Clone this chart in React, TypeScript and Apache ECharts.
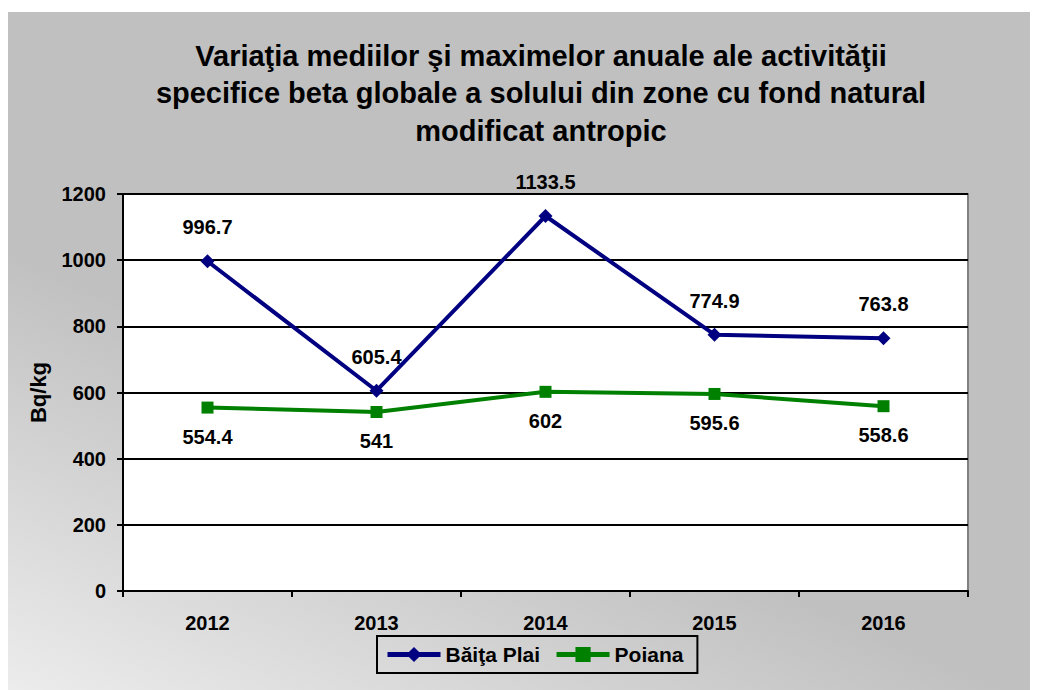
import React, { useEffect, useRef } from "react";
import * as echarts from "echarts";

const titleLines = [
  "Variaţia mediilor şi maximelor anuale ale activităţii",
  "specifice beta globale a solului din zone cu fond natural",
  "modificat antropic",
];
const years = ["2012", "2013", "2014", "2015", "2016"];
const baitaPlai = [996.7, 605.4, 1133.5, 774.9, 763.8];
const poiana = [554.4, 541, 602, 595.6, 558.6];
const seriesNames = ["Băiţa Plai", "Poiana"];
const yTicks = { min: 0, max: 1200, interval: 200 };
const yName = "Bq/kg";

const FONT = "Arial, 'Liberation Sans', sans-serif";

export default function App() {
  const ref = useRef<HTMLDivElement>(null);
  useEffect(() => {
    if (!ref.current) return;
    const chart = echarts.init(ref.current, undefined, { renderer: "svg" });
    chart.setOption({
      animation: false,
      graphic: [
        {
          type: "rect",
          z: -10,
          silent: true,
          shape: { x: 0, y: 4, width: 1030, height: 678 },
          style: {
            fill: new echarts.graphic.LinearGradient(0, 1, 0.3, 0.55, [
              { offset: 0, color: "#ececec" },
              { offset: 1, color: "#c0c0c0" },
            ]),
          },
        },
        ...titleLines.map((t, i) => ({
          type: "text",
          x: 533,
          y: 47.5 + i * 37.5,
          style: {
            text: t,
            fill: "#000",
            fontFamily: FONT,
            fontWeight: "bold",
            fontSize: 29,
            textAlign: "center",
            textVerticalAlign: "middle",
          },
        })),
      ],
      grid: {
        left: 115,
        top: 186,
        right: 70,
        bottom: 99,
        show: true,
        backgroundColor: "#ffffff",
        borderColor: "#808080",
        borderWidth: 2,
      },
      legend: {
        left: 369,
        top: 628,
        data: seriesNames,
        borderColor: "#000",
        borderWidth: 2,
        padding: [8, 14, 8, 8],
        itemWidth: 53,
        itemHeight: 19,
        itemGap: 14,
        lineStyle: { width: 5 },
        textStyle: { fontFamily: FONT, fontWeight: "bold", fontSize: 21, color: "#000" },
      },
      xAxis: {
        type: "category",
        data: years,
        boundaryGap: true,
        axisLine: { lineStyle: { color: "#000", width: 2 } },
        axisTick: { show: true, alignWithLabel: false, length: 6, inside: false, lineStyle: { color: "#000", width: 2 } },
        axisLabel: { margin: 22, fontFamily: FONT, fontWeight: "bold", fontSize: 20, color: "#000" },
        splitLine: { show: false },
      },
      yAxis: {
        type: "value",
        min: yTicks.min,
        max: yTicks.max,
        interval: yTicks.interval,
        name: yName,
        nameLocation: "middle",
        nameGap: 74,
        nameRotate: 90,
        nameTextStyle: { fontFamily: FONT, fontWeight: "bold", fontSize: 22, color: "#000" },
        axisLine: { show: true, lineStyle: { color: "#000", width: 2 } },
        axisTick: { show: true, length: 6, lineStyle: { color: "#000", width: 2 } },
        axisLabel: {
          margin: 17,
          fontFamily: FONT,
          fontWeight: "bold",
          fontSize: 20,
          color: "#000",
          formatter: (v: number) => String(v),
        },
        splitLine: { show: true, lineStyle: { color: "#000", width: 2 } },
      },
      series: [
        {
          name: seriesNames[0],
          type: "line",
          data: baitaPlai,
          color: "#000080",
          symbol: "diamond",
          symbolSize: 14,
          lineStyle: { width: 4, color: "#000080" },
          itemStyle: { color: "#000080" },
          label: {
            show: true,
            position: "top",
            distance: 17,
            fontFamily: FONT,
            fontWeight: "bold",
            fontSize: 20,
            color: "#000",
          },
          z: 3,
        },
        {
          name: seriesNames[1],
          type: "line",
          data: poiana,
          color: "#008000",
          symbol: "rect",
          symbolSize: 12,
          lineStyle: { width: 4, color: "#008000" },
          itemStyle: { color: "#008000" },
          label: {
            show: true,
            position: "bottom",
            distance: 13,
            fontFamily: FONT,
            fontWeight: "bold",
            fontSize: 20,
            color: "#000",
          },
          z: 3,
        },
      ],
    });
    return () => chart.dispose();
  }, []);
  return <div ref={ref} style={{ width: 1030, height: 682 }} />;
}
